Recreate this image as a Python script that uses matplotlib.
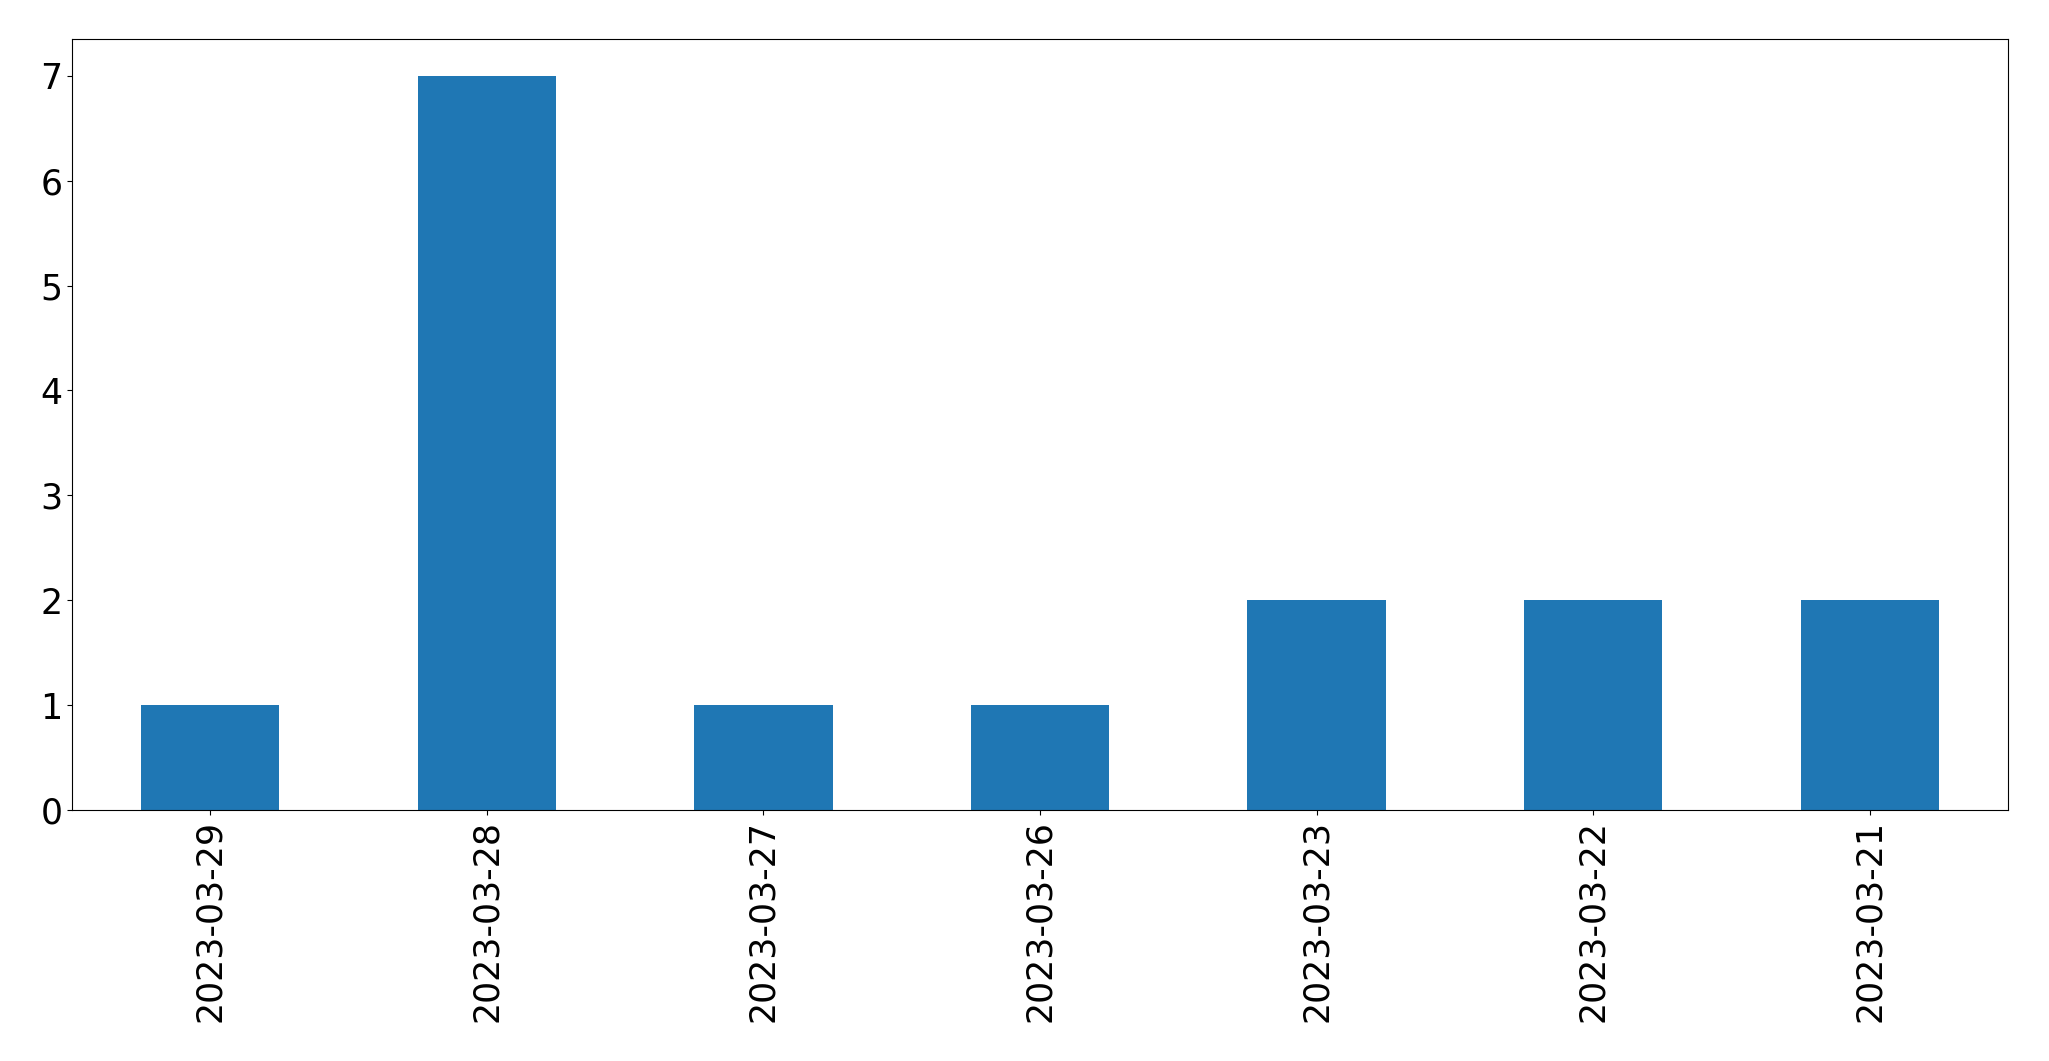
import matplotlib
matplotlib.use('Agg')
import matplotlib.pyplot as plt
import pandas as pd

# Counts per date
dates = ['2023-03-29', '2023-03-28', '2023-03-27', '2023-03-26',
         '2023-03-23', '2023-03-22', '2023-03-21']
counts = [1, 7, 1, 1, 2, 2, 2]

s = pd.Series(counts, index=dates)

fig = plt.figure(figsize=(20.49, 10.61), dpi=100)
ax = fig.add_axes([72 / 2049, 1 - 810 / 1061, (2008 - 72) / 2049, (810 - 39) / 1061])
s.plot(kind='bar', ax=ax, color='#1f77b4', fontsize=25)
ax.tick_params(axis='both', labelsize=25)

fig.savefig('out.png', dpi=100)
